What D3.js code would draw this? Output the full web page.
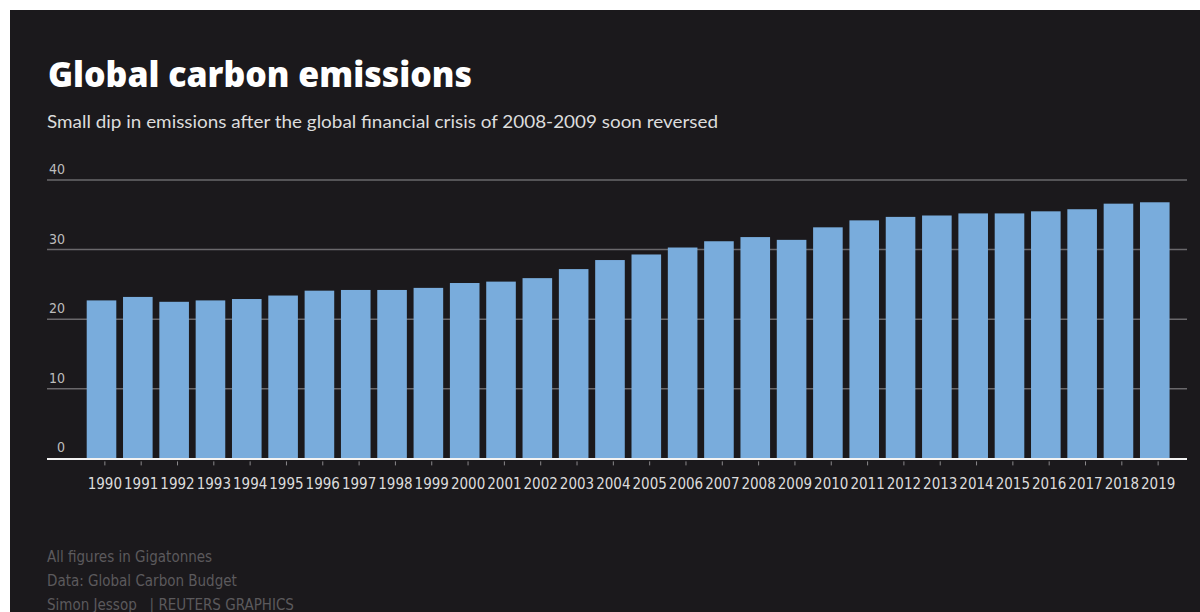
<!DOCTYPE html>
<html>
<head>
<meta charset="utf-8">
<script src="https://cdn.jsdelivr.net/npm/d3@7"></script>
<style>
  html, body { margin: 0; padding: 0; background: #ffffff; }
  #chart { position: absolute; left: 10px; top: 10px; width: 1190px; height: 602px; background: #1b191c; }
  .title { font-family: "Open Sans", Lato, sans-serif; font-weight: 800; fill: #ffffff; }
  .subtitle { font-family: Lato, sans-serif; fill: #dddddd; }
  .footer { font-family: "DejaVu Sans Condensed", "DejaVu Sans", sans-serif; fill: #5c5a5d; }
  .y-label { font-family: "DejaVu Sans Condensed", "DejaVu Sans", sans-serif; fill: #bdbdbd; }
  .x-axis text { font-family: "DejaVu Sans Condensed", "DejaVu Sans", sans-serif; fill: #dcdcdc; }
</style>
</head>
<body>
<div id="chart"></div>
<script>
// data
const years = d3.range(1990, 2020).map(String);
const emissions = [
  22.7, 23.2, 22.5, 22.7, 22.9, 23.4, 24.1, 24.2, 24.2, 24.5,
  25.2, 25.4, 25.9, 27.2, 28.5, 29.3, 30.3, 31.2, 31.8, 31.4,
  33.2, 34.2, 34.7, 34.9, 35.2, 35.2, 35.5, 35.8, 36.6, 36.8
];
const yTicks = [0, 10, 20, 30, 40];
const footerLines = ["All figures in Gigatonnes", "Data: Global Carbon Budget", "Simon Jessop   | REUTERS GRAPHICS"];

const data = years.map((y, i) => ({ year: y, value: emissions[i] }));

// svg sits inside the dark panel (offset 10,10 in page)
const width = 1190, height = 602;
const svg = d3.select("#chart").append("svg")
    .attr("width", width)
    .attr("height", height);

// layout in panel coordinates
const gridLeft = 37, gridRight = 1177;
const slotLeft = 76.7, slotStep = 36.32;

const x = d3.scaleBand()
    .domain(years)
    .range([slotLeft, slotLeft + slotStep * years.length])
    .padding(0);

const y = d3.scaleLinear()
    .domain([0, 40])
    .range([448.4, 170]);

const barWidth = slotStep * 0.815;

// title + subtitle (stretched to the reference widths)
svg.append("text")
    .attr("class", "title")
    .attr("x", 38).attr("y", 76.5)
    .attr("textLength", 424)
    .attr("lengthAdjust", "spacingAndGlyphs")
    .style("font-size", "35px")
    .text("Global carbon emissions");

svg.append("text")
    .attr("class", "subtitle")
    .attr("x", 37).attr("y", 117.5)
    .attr("textLength", 671)
    .attr("lengthAdjust", "spacingAndGlyphs")
    .style("font-size", "17.5px")
    .text("Small dip in emissions after the global financial crisis of 2008-2009 soon reversed");

// gridlines
svg.append("g").selectAll("line")
    .data(yTicks.filter(d => d > 0))
    .join("line")
    .attr("x1", gridLeft).attr("x2", gridRight)
    .attr("y1", d => y(d)).attr("y2", d => y(d))
    .attr("stroke", "#6a686b")
    .attr("stroke-width", 1.5);

svg.append("g").selectAll("text")
    .data(yTicks)
    .join("text")
    .attr("class", "y-label")
    .attr("x", 55)
    .attr("y", d => y(d) - 6)
    .attr("text-anchor", "end")
    .style("font-size", "14px")
    .text(d => d);

// bars
svg.append("g").selectAll("rect")
    .data(data)
    .join("rect")
    .attr("x", d => x(d.year))
    .attr("y", d => y(d.value))
    .attr("width", barWidth)
    .attr("height", d => y(0) - y(d.value))
    .attr("fill", "#79acdc");

// x axis
const xAxis = svg.append("g")
    .attr("class", "x-axis")
    .attr("transform", `translate(0, ${y(0) + 1})`)
    .call(d3.axisBottom(x).tickSize(6).tickPadding(13).tickSizeOuter(0));

xAxis.select(".domain").remove();
xAxis.selectAll(".tick line").attr("stroke", "#8a888b").attr("y1", 2);
xAxis.selectAll(".tick text").style("font-size", "15px");

svg.append("line")
    .attr("x1", gridLeft).attr("x2", gridRight)
    .attr("y1", y(0) + 0.5).attr("y2", y(0) + 0.5)
    .attr("stroke", "#f2f2f2")
    .attr("stroke-width", 2);

// footer
svg.append("g").selectAll("text")
    .data(footerLines)
    .join("text")
    .attr("class", "footer")
    .attr("x", 37)
    .attr("y", (d, i) => 551.5 + i * 24)
    .style("font-size", "15px")
    .attr("xml:space", "preserve")
    .text(d => d);
</script>
</body>
</html>
